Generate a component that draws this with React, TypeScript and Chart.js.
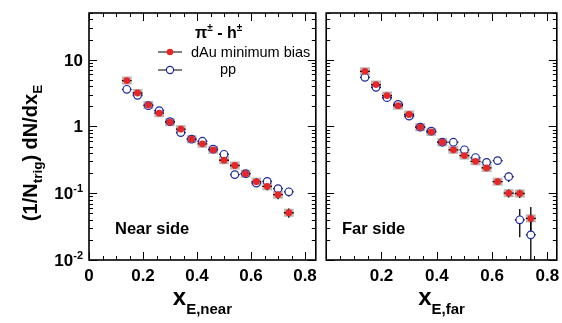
import React, { useEffect, useRef } from "react";
import { Chart, registerables } from "chart.js";
Chart.register(...registerables);

// ---------- data ----------
const xBins = [0.14, 0.18, 0.22, 0.26, 0.30, 0.34, 0.38, 0.42, 0.46, 0.50, 0.54, 0.58, 0.62, 0.66, 0.70, 0.74];
const xHalfWidth = 0.018;

const nearDAu = [4.87, 3.17, 2.09, 1.58, 1.16, 0.91, 0.644, 0.55, 0.447, 0.312, 0.26, 0.196, 0.149, 0.127, 0.095, 0.051];
const nearDAuErr = [0.15, 0.09, 0.06, 0.05, 0.035, 0.03, 0.02, 0.02, 0.018, 0.015, 0.014, 0.013, 0.018, 0.016, 0.014, 0.008];
const nearPP = [3.6, 2.93, 2.05, 1.72, 1.18, 0.81, 0.644, 0.6, 0.456, 0.383, 0.19, 0.196, 0.142, 0.15, 0.117, 0.105];
const nearPPErr = [0.1, 0.08, 0.06, 0.05, 0.04, 0.03, 0.025, 0.025, 0.02, 0.02, 0.015, 0.017, 0.016, 0.017, 0.016, 0.016];

const farDAu = [6.7, 4.24, 2.9, 2.05, 1.51, 0.976, 0.83, 0.58, 0.447, 0.366, 0.3, 0.239, 0.149, 0.1, 0.099, 0.042];
const farDAuErr = [0.2, 0.12, 0.08, 0.06, 0.045, 0.03, 0.03, 0.02, 0.02, 0.018, 0.016, 0.018, 0.016, 0.014, 0.014, 0.02];
const farPP = [5.45, 3.86, 2.7, 2.14, 1.43, 0.976, 0.85, 0.58, 0.58, 0.447, 0.342, 0.29, 0.308, 0.177, 0.04, 0.0238];
const farPPErr = [0.15, 0.1, 0.07, 0.06, 0.04, 0.03, 0.03, 0.025, 0.025, 0.022, 0.022, 0.025, 0.03, 0.03, 0.018, 0.02];

const dAuSysRel = 0.15;

const yTickValues = [0.01, 0.1, 1, 10];
const yTickBase = ["10", "10", "1", "10"];
const yTickExp = ["-2", "-1", "", ""];
const xTicksNear = [0, 0.2, 0.4, 0.6, 0.8];
const xTicksFar = [0.2, 0.4, 0.6, 0.8];

const legendDAu = "dAu minimum bias";
const legendPP = "pp";

// ---------- styles ----------
const FONT = '"Liberation Sans", Arial, Helvetica, sans-serif';
const RED = "rgb(232,38,38)";
const BLUE = "rgb(30,40,160)";
const GRAY = "rgb(185,185,185)";

type Part = { t: string; size: number; dy?: number; bold?: boolean };
function fontOf(p: Part) {
  return `${p.bold === false ? "" : "bold "}${p.size}px ${FONT}`;
}
function drawRich(ctx: CanvasRenderingContext2D, parts: Part[], x: number, y: number, align: "left" | "center" | "right") {
  let total = 0;
  const widths: number[] = [];
  for (const p of parts) {
    ctx.font = fontOf(p);
    const w = ctx.measureText(p.t).width;
    widths.push(w);
    total += w;
  }
  let cx = align === "left" ? x : align === "center" ? x - total / 2 : x - total;
  ctx.textAlign = "left";
  ctx.textBaseline = "alphabetic";
  parts.forEach((p, i) => {
    ctx.font = fontOf(p);
    ctx.fillText(p.t, cx, y + (p.dy || 0));
    cx += widths[i];
  });
}

type PanelCfg = {
  dAu: number[];
  dAuErr: number[];
  pp: number[];
  ppErr: number[];
  xMax: number;
  xTicks: number[];
  showYLabels: boolean;
  xSub: string;
  sideLabel: string;
  sideX: number;
  showLegend: boolean;
  pad: { left: number; right: number; top: number; bottom: number };
  width: number;
};

function makePlugin(cfg: PanelCfg) {
  return {
    id: "panelDeco",
    beforeDatasetsDraw(chart: any) {
      const ctx: CanvasRenderingContext2D = chart.ctx;
      const xs = chart.scales.x;
      const ys = chart.scales.y;
      const a = chart.chartArea;
      ctx.save();
      ctx.beginPath();
      ctx.rect(a.left, a.top, a.right - a.left, a.bottom - a.top);
      ctx.clip();
      // systematic boxes
      ctx.fillStyle = GRAY;
      xBins.forEach((x, i) => {
        const v = cfg.dAu[i];
        const x0 = xs.getPixelForValue(x - xHalfWidth);
        const x1 = xs.getPixelForValue(x + xHalfWidth);
        const y0 = ys.getPixelForValue(v * (1 + dAuSysRel));
        const y1 = ys.getPixelForValue(v / (1 + dAuSysRel));
        ctx.fillRect(x0, y0, x1 - x0, y1 - y0);
      });
      // error bars
      ctx.strokeStyle = "#000";
      ctx.lineWidth = 1.3;
      const bars = (vals: number[], errs: number[]) => {
        xBins.forEach((x, i) => {
          const v = vals[i];
          const e = errs[i];
          const px = xs.getPixelForValue(x);
          const py = ys.getPixelForValue(v);
          const yl = ys.getPixelForValue(Math.max(v - e, 1e-4));
          const yh = ys.getPixelForValue(v + e);
          const xl = xs.getPixelForValue(x - xHalfWidth);
          const xh = xs.getPixelForValue(x + xHalfWidth);
          ctx.beginPath();
          ctx.moveTo(px, yl);
          ctx.lineTo(px, yh);
          ctx.moveTo(xl, py);
          ctx.lineTo(xh, py);
          ctx.stroke();
        });
      };
      bars(cfg.pp, cfg.ppErr);
      bars(cfg.dAu, cfg.dAuErr);
      ctx.restore();
    },
    afterDraw(chart: any) {
      const ctx: CanvasRenderingContext2D = chart.ctx;
      const xs = chart.scales.x;
      const ys = chart.scales.y;
      const a = chart.chartArea;
      ctx.save();
      ctx.strokeStyle = "#000";
      ctx.fillStyle = "#000";
      // frame
      ctx.lineWidth = 1.6;
      ctx.strokeRect(a.left, a.top, a.right - a.left, a.bottom - a.top);
      // y ticks
      ctx.lineWidth = 1;
      ctx.beginPath();
      for (let d = -2; d <= 1; d++) {
        for (let k = 1; k <= 9; k++) {
          const v = k * Math.pow(10, d);
          if (v > ys.max) continue;
          const py = Math.round(ys.getPixelForValue(v)) + 0.5;
          const len = k === 1 ? 8 : 4;
          ctx.moveTo(a.left, py);
          ctx.lineTo(a.left + len, py);
          ctx.moveTo(a.right, py);
          ctx.lineTo(a.right - len, py);
        }
      }
      // x ticks
      for (let i = 0; i * 0.05 <= cfg.xMax + 1e-9; i++) {
        const px = Math.round(xs.getPixelForValue(i * 0.05)) + 0.5;
        const len = i % 4 === 0 ? 8 : 4;
        ctx.moveTo(px, a.bottom);
        ctx.lineTo(px, a.bottom - len);
        ctx.moveTo(px, a.top);
        ctx.lineTo(px, a.top + len);
      }
      ctx.stroke();
      // x tick labels
      cfg.xTicks.forEach((v) => {
        const px = xs.getPixelForValue(v);
        drawRich(ctx, [{ t: v === 0 ? "0" : v.toFixed(1), size: 17 }], px, a.bottom + 21, "center");
      });
      // y tick labels
      if (cfg.showYLabels) {
        yTickValues.forEach((v, i) => {
          const py = ys.getPixelForValue(v);
          const parts: Part[] = [{ t: yTickBase[i], size: 17 }];
          if (yTickExp[i]) parts.push({ t: yTickExp[i], size: 11, dy: -7 });
          drawRich(ctx, parts, a.left - 6, py + 6, "right");
        });
        // y title
        ctx.save();
        ctx.translate(37, 153);
        ctx.rotate(-Math.PI / 2);
        drawRich(
          ctx,
          [
            { t: "(1/N", size: 20 },
            { t: "trig", size: 13.5, dy: 5 },
            { t: ") dN/dx", size: 20 },
            { t: "E", size: 13.5, dy: 5 },
          ],
          0,
          0,
          "center"
        );
        ctx.restore();
      }
      // x title
      const cxT = (a.left + a.right) / 2;
      drawRich(
        ctx,
        [
          { t: "x", size: 24 },
          { t: cfg.xSub, size: 15, dy: 9 },
        ],
        cxT,
        305,
        "center"
      );
      // side label
      drawRich(ctx, [{ t: cfg.sideLabel, size: 16.5 }], cfg.sideX, 234, "left");
      // legend
      if (cfg.showLegend) {
        drawRich(
          ctx,
          [
            { t: "π", size: 16 },
            { t: "±", size: 10, dy: -7 },
            { t: " - h", size: 16 },
            { t: "±", size: 10, dy: -7 },
          ],
          195,
          38,
          "left"
        );
        // dAu entry
        ctx.lineWidth = 1.2;
        ctx.strokeStyle = "#000";
        ctx.beginPath();
        ctx.moveTo(158, 52);
        ctx.lineTo(182, 52);
        ctx.moveTo(158, 70);
        ctx.lineTo(182, 70);
        ctx.stroke();
        ctx.fillStyle = RED;
        ctx.beginPath();
        ctx.arc(170, 52, 3.3, 0, Math.PI * 2);
        ctx.fill();
        ctx.fillStyle = "#fff";
        ctx.strokeStyle = BLUE;
        ctx.beginPath();
        ctx.arc(170, 70, 3.6, 0, Math.PI * 2);
        ctx.fill();
        ctx.stroke();
        ctx.fillStyle = "#000";
        drawRich(ctx, [{ t: legendDAu, size: 14.5, bold: false }], 191, 57, "left");
        drawRich(ctx, [{ t: legendPP, size: 14.5, bold: false }], 220, 74, "left");
      }
      ctx.restore();
    },
  };
}

function Panel({ cfg, left }: { cfg: PanelCfg; left: number }) {
  const ref = useRef<HTMLCanvasElement>(null);
  useEffect(() => {
    if (!ref.current) return;
    const chart = new Chart(ref.current, {
      type: "scatter",
      data: {
        datasets: [
          {
            label: "dAu minimum bias",
            data: xBins.map((x, i) => ({ x, y: cfg.dAu[i] })),
            pointStyle: "circle",
            pointRadius: 3.4,
            backgroundColor: RED,
            borderColor: RED,
            borderWidth: 0,
            showLine: false,
          },
          {
            label: "pp",
            data: xBins.map((x, i) => ({ x, y: cfg.pp[i] })),
            pointStyle: "circle",
            pointRadius: 3.8,
            backgroundColor: "#fff",
            borderColor: BLUE,
            borderWidth: 1.2,
            showLine: false,
          },
        ],
      },
      options: {
        animation: false,
        responsive: false,
        maintainAspectRatio: false,
        layout: { padding: cfg.pad },
        plugins: { legend: { display: false }, tooltip: { enabled: false } },
        scales: {
          x: { type: "linear", min: 0, max: cfg.xMax, display: false },
          y: { type: "logarithmic", min: 0.01, max: 50, display: false },
        },
      },
      plugins: [makePlugin(cfg)],
    } as any);
    return () => chart.destroy();
  }, []);
  return (
    <canvas
      ref={ref}
      width={cfg.width}
      height={323}
      style={{ position: "absolute", left, top: 0, width: cfg.width, height: 323 }}
    />
  );
}

const nearCfg: PanelCfg = {
  dAu: nearDAu,
  dAuErr: nearDAuErr,
  pp: nearPP,
  ppErr: nearPPErr,
  xMax: 0.84,
  xTicks: xTicksNear,
  showYLabels: true,
  xSub: "E,near",
  sideLabel: "Near side",
  sideX: 115,
  showLegend: true,
  pad: { left: 89, right: 2, top: 13, bottom: 63 },
  width: 321,
};

const farCfg: PanelCfg = {
  dAu: farDAu,
  dAuErr: farDAuErr,
  pp: farPP,
  ppErr: farPPErr,
  xMax: 0.834,
  xTicks: xTicksFar,
  showYLabels: false,
  xSub: "E,far",
  sideLabel: "Far side",
  sideX: 342,
  showLegend: false,
  pad: { left: 1, right: 4, top: 13, bottom: 63 },
  width: 241,
};

export default function App() {
  return (
    <div style={{ position: "fixed", left: 0, top: 0, width: 562, height: 323, background: "#fff", overflow: "hidden" }}>
      <Panel cfg={nearCfg} left={0} />
      <Panel cfg={{ ...farCfg, sideX: farCfg.sideX - 321 }} left={321} />
    </div>
  );
}
